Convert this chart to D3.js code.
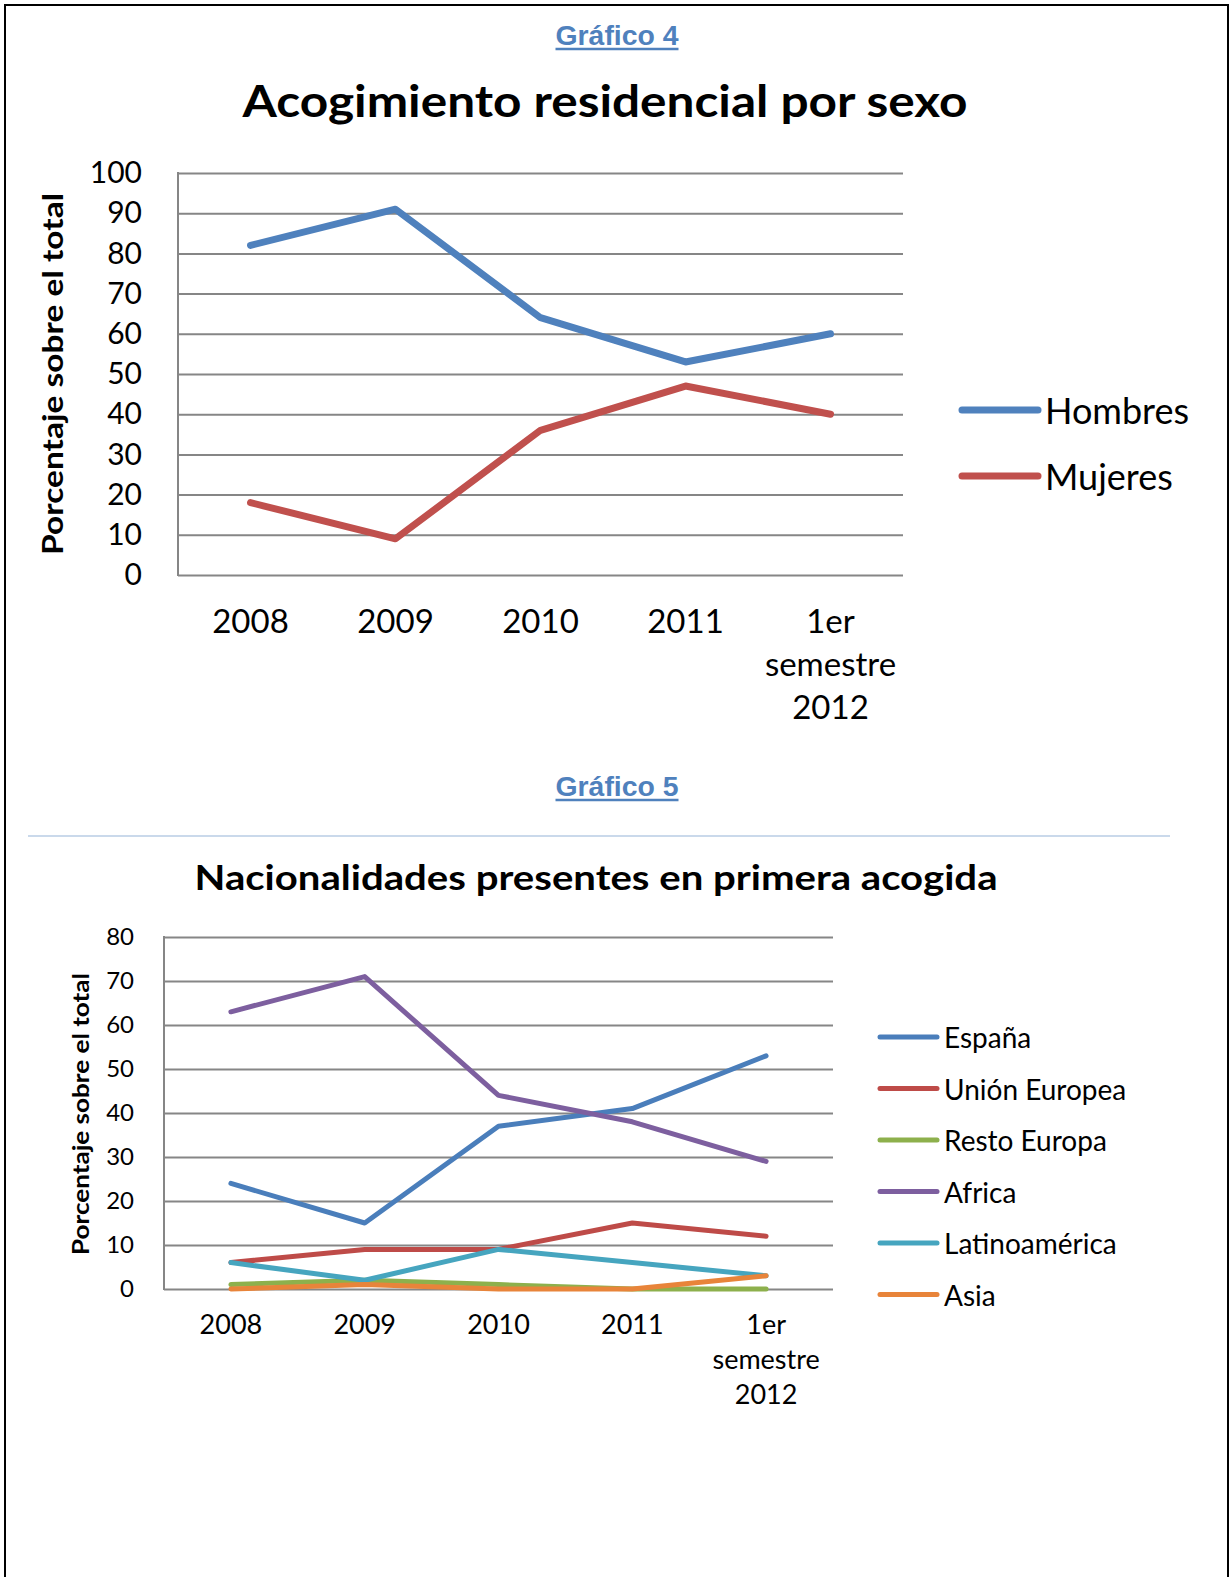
<!DOCTYPE html>
<html><head><meta charset="utf-8">
<script src="https://cdn.jsdelivr.net/npm/d3@7"></script>
<style>
html,body{margin:0;padding:0;background:#fff;}
svg{display:block;}
</style></head>
<body>
<svg id="c" width="1232" height="1577"></svg>
<script>
// ---- Gráfico 4 data ----
const cats1 = ["2008","2009","2010","2011","1er semestre 2012"];
const hombres = [82, 91, 64, 53, 60];
const mujeres = [18, 9, 36, 47, 40];
const series1Names = ["Hombres","Mujeres"];
const series1Colors = ["#4F81BD","#C0504D"];
const ticks1 = [0,10,20,30,40,50,60,70,80,90,100];

// ---- Gráfico 5 data ----
const cats2 = ["2008","2009","2010","2011","1er semestre 2012"];
const espana = [24, 15, 37, 41, 53];
const unionEuropea = [6, 9, 9, 15, 12];
const restoEuropa = [1, 2, 1, 0, 0];
const africa = [63, 71, 44, 38, 29];
const latinoamerica = [6, 2, 9, 6, 3];
const asia = [0, 1, 0, 0, 3];
const series2Names = ["España","Unión Europea","Resto Europa","Africa","Latinoamérica","Asia"];
const series2Colors = ["#4A7EBB","#BE4B48","#8DB04C","#7D5F9F","#46A5BF","#E8843A"];
const ticks2 = [0,10,20,30,40,50,60,70,80];

const svg = d3.select("#c");
const FONT = "Lato, 'Open Sans', sans-serif";

// page border
svg.append("path").attr("d","M5,1580 L5,5 L1228,5 L1228,1580")
  .attr("fill","none").attr("stroke","#000").attr("stroke-width",2);

function heading(text, cx, y){
  const t = svg.append("text").attr("x",cx).attr("y",y).attr("text-anchor","middle")
    .attr("font-family","'Liberation Sans', Arial, sans-serif").attr("font-weight","bold")
    .attr("font-size",27).attr("fill","#4F81BD")
    .attr("textLength",123).attr("lengthAdjust","spacingAndGlyphs").text(text);
  const w = 123;
  svg.append("line").attr("x1",cx-w/2).attr("x2",cx+w/2).attr("y1",y+4).attr("y2",y+4)
    .attr("stroke","#4F81BD").attr("stroke-width",2.5);
}

function chart(o){
  const x = d3.scalePoint().domain(o.cats).range([o.x0,o.x1]).padding(0.5);
  const y = d3.scaleLinear().domain([0,o.max]).range([o.y0,o.y1]);
  const g = svg.append("g");
  // title
  g.append("text").attr("x",o.titleX).attr("y",o.titleY).attr("text-anchor","middle")
    .attr("font-family",FONT).attr("font-weight","bold").attr("font-size",o.titleSize)
    .attr("textLength",o.titleLen).attr("lengthAdjust","spacingAndGlyphs")
    .attr("fill","#000").text(o.title);
  // grid + y axis
  const ax = g.append("g").attr("transform",`translate(${o.x0},0)`)
    .call(d3.axisLeft(y).tickValues(o.ticks).tickSize(-(o.x1-o.x0)).tickPadding(o.tickPad).tickFormat(d3.format("d")));
  ax.select(".domain").remove();
  ax.selectAll(".tick line").attr("stroke","#868686").attr("stroke-width",2);
  ax.selectAll(".tick text").attr("font-family",FONT).attr("font-size",o.tickSize).attr("fill","#000");
  g.append("line").attr("x1",o.x0).attr("x2",o.x0).attr("y1",y(o.max)-1).attr("y2",y(0)+1)
    .attr("stroke","#868686").attr("stroke-width",2);
  // x labels
  const xl = g.append("g");
  o.cats.forEach(c=>{
    const words = c === "1er semestre 2012" ? ["1er","semestre","2012"] : [c];
    const t = xl.append("text").attr("x",x(c)).attr("y",o.xLabY).attr("text-anchor","middle")
      .attr("font-family",FONT).attr("font-size",o.xTickSize).attr("fill","#000");
    words.forEach((w,i)=>t.append("tspan").attr("x",x(c)).attr("dy",i===0?0:o.xLabLH).text(w));
  });
  // y title
  g.append("text").attr("transform",`translate(${o.yTitleX},${o.yTitleY}) rotate(-90)`)
    .attr("text-anchor","middle").attr("dominant-baseline","central")
    .attr("font-family",FONT).attr("font-weight","bold").attr("font-size",o.yTitleSize)
    .attr("textLength",o.yTitleLen).attr("lengthAdjust","spacingAndGlyphs")
    .text("Porcentaje sobre el total");
  // lines
  const line = d3.line().x((d,i)=>x(o.cats[i])).y(d=>y(d));
  o.series.forEach((s,k)=>{
    g.append("path").datum(s).attr("d",line).attr("fill","none")
      .attr("stroke",o.colors[k]).attr("stroke-width",o.lw)
      .attr("stroke-linecap","round").attr("stroke-linejoin","round");
  });
  // legend
  o.names.forEach((n,k)=>{
    const yy = o.legY0 + k*o.legStep;
    g.append("line").attr("x1",o.legX).attr("x2",o.legX+o.legLen).attr("y1",yy).attr("y2",yy)
      .attr("stroke",o.colors[k]).attr("stroke-width",o.lw).attr("stroke-linecap","round");
    g.append("text").attr("x",o.legX+o.legLen+7).attr("y",yy).attr("dominant-baseline","central")
      .attr("font-family",FONT).attr("font-size",o.legSize).attr("fill","#000").text(n);
  });
}

heading("Gráfico 4", 617, 45);
chart({
  cats:cats1, series:[hombres,mujeres], names:series1Names, colors:series1Colors,
  ticks:ticks1, max:100, x0:178, x1:903, y0:575, y1:173,
  title:"Acogimiento residencial por sexo", titleX:605, titleY:117, titleSize:44, titleLen:725,
  tickSize:30, xTickSize:33, tickPad:36, xLabY:633, xLabLH:43,
  yTitleX:52, yTitleY:374, yTitleSize:28, yTitleLen:362,
  lw:7, legX:962, legLen:76, legY0:410, legStep:66, legSize:36
});

heading("Gráfico 5", 617, 796);
svg.append("line").attr("x1",28).attr("x2",1170).attr("y1",836).attr("y2",836)
  .attr("stroke","#B9CDE5").attr("stroke-width",1.5);
chart({
  cats:cats2, series:[espana,unionEuropea,restoEuropa,africa,latinoamerica,asia],
  names:series2Names, colors:series2Colors,
  ticks:ticks2, max:80, x0:164, x1:833, y0:1289, y1:937,
  title:"Nacionalidades presentes en primera acogida", titleX:596, titleY:890, titleSize:34, titleLen:803,
  tickSize:24, xTickSize:27, tickPad:30, xLabY:1334, xLabLH:35,
  yTitleX:80, yTitleY:1114, yTitleSize:22, yTitleLen:282,
  lw:5, legX:880, legLen:57, legY0:1037, legStep:51.5, legSize:28
});
</script>
</body></html>
